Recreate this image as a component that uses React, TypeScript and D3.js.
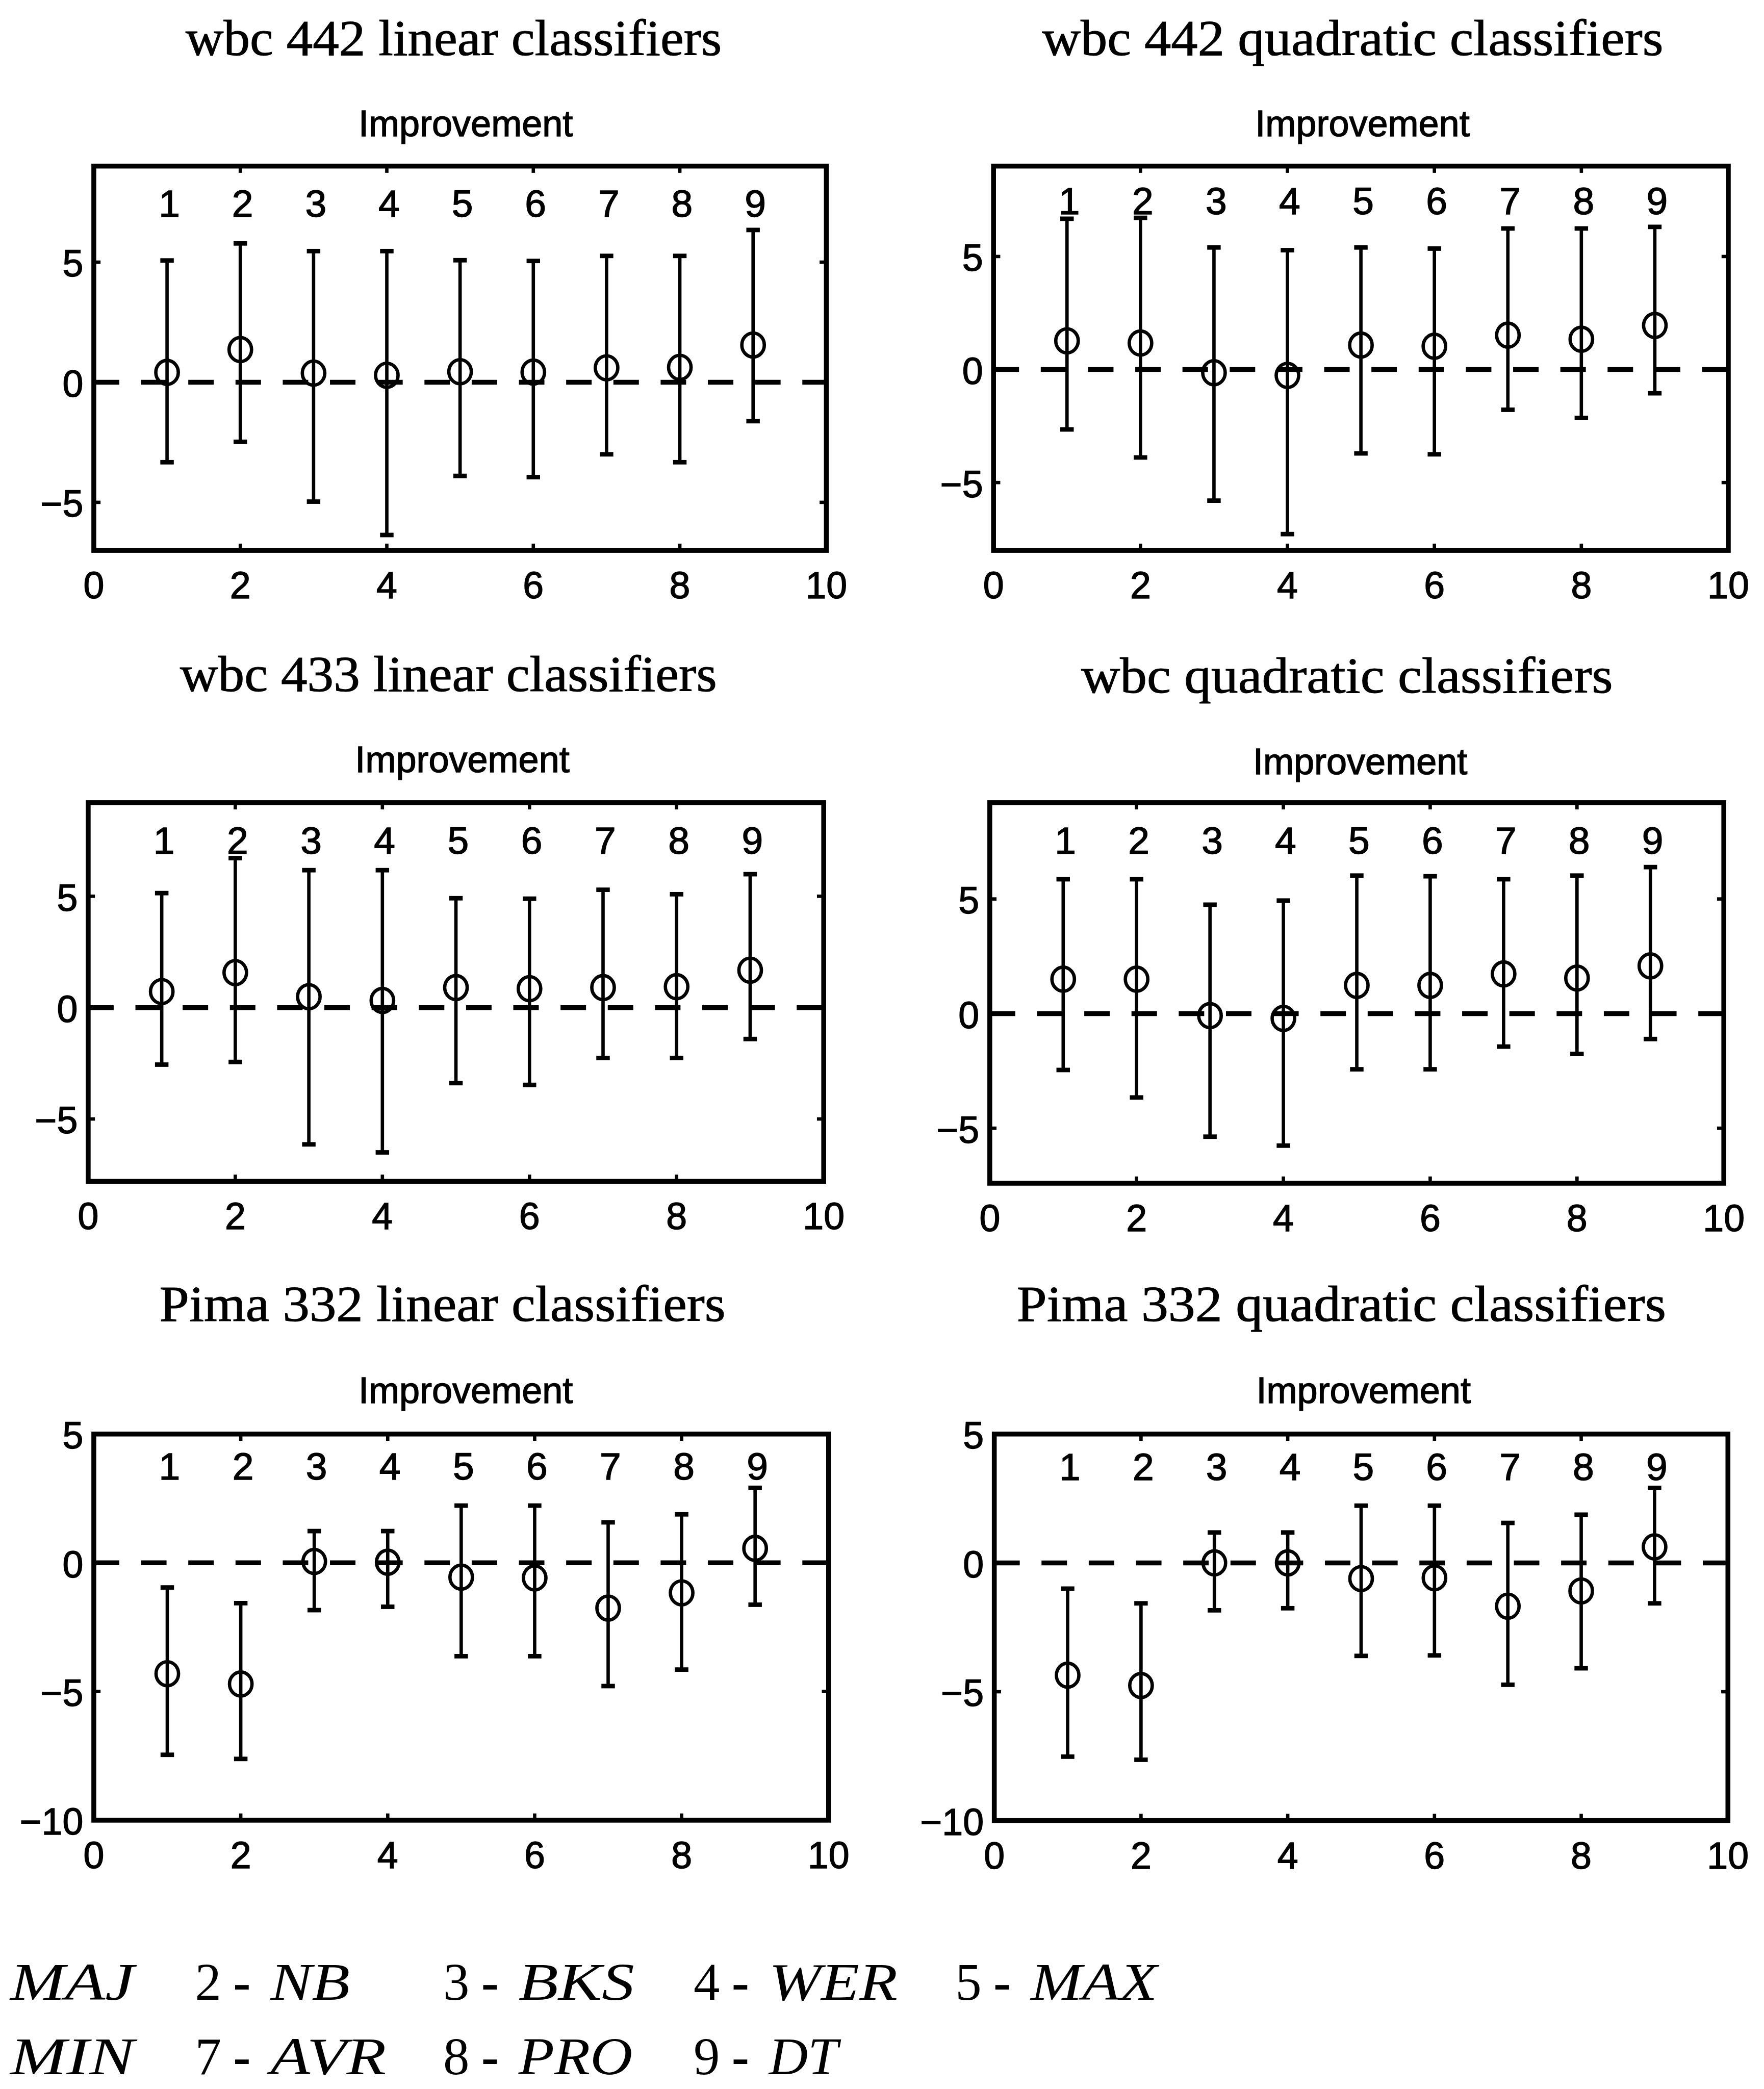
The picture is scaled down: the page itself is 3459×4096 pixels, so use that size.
import React from 'react';
import * as d3 from 'd3';

// Classifier index shown along each panel
const methods = [1, 2, 3, 4, 5, 6, 7, 8, 9];

// wbc 442 linear classifiers
const wbc442LinMean = [0.41, 1.36, 0.38, 0.29, 0.44, 0.42, 0.6, 0.62, 1.55];
const wbc442LinLow = [-3.33, -2.48, -4.97, -6.36, -3.9, -3.95, -3.0, -3.33, -1.62];
const wbc442LinHigh = [5.07, 5.78, 5.46, 5.46, 5.08, 5.05, 5.26, 5.26, 6.34];

// wbc 442 quadratic classifiers
const wbc442QuadMean = [1.27, 1.17, -0.14, -0.26, 1.08, 1.03, 1.52, 1.34, 1.95];
const wbc442QuadLow = [-2.65, -3.89, -5.8, -7.28, -3.71, -3.75, -1.78, -2.14, -1.05];
const wbc442QuadHigh = [6.67, 6.71, 5.4, 5.28, 5.4, 5.35, 6.24, 6.24, 6.31];

// wbc 433 linear classifiers
const wbc433LinMean = [0.72, 1.57, 0.49, 0.32, 0.9, 0.85, 0.9, 0.94, 1.68];
const wbc433LinLow = [-2.56, -2.44, -6.14, -6.5, -3.39, -3.47, -2.26, -2.26, -1.41];
const wbc433LinHigh = [5.14, 6.71, 6.17, 6.17, 4.91, 4.89, 5.29, 5.09, 5.99];

// wbc quadratic classifiers
const wbcQuadMean = [1.5, 1.5, -0.09, -0.21, 1.23, 1.23, 1.73, 1.55, 2.08];
const wbcQuadLow = [-2.46, -3.66, -5.37, -5.76, -2.43, -2.43, -1.44, -1.76, -1.11];
const wbcQuadHigh = [5.86, 5.86, 4.75, 4.93, 6.02, 5.99, 5.86, 6.02, 6.39];

// Pima 332 linear classifiers
const pimaLinMean = [-4.31, -4.71, 0.05, 0.02, -0.56, -0.59, -1.76, -1.17, 0.56];
const pimaLinLow = [-7.46, -7.62, -1.84, -1.71, -3.63, -3.63, -4.79, -4.15, -1.63];
const pimaLinHigh = [-0.96, -1.57, 1.23, 1.23, 2.22, 2.22, 1.57, 1.88, 2.91];

// Pima 332 quadratic classifiers
const pimaQuadMean = [-4.36, -4.76, 0.0, 0.0, -0.61, -0.58, -1.68, -1.09, 0.62];
const pimaQuadLow = [-7.52, -7.64, -1.84, -1.76, -3.61, -3.59, -4.73, -4.09, -1.57];
const pimaQuadHigh = [-1.0, -1.57, 1.18, 1.18, 2.22, 2.22, 1.55, 1.87, 2.91];

// Axis tick labels
const xTicks = [0, 2, 4, 6, 8, 10];
const yTicksWbc = [-5, 0, 5];
const yTicksPima = [-10, -5, 0, 5];

// Method key shown under the panels
const legendNames = ['MAJ', 'NB', 'BKS', 'WER', 'MAX', 'MIN', 'AVR', 'PRO', 'DT'];

const panels = [
  { title: 'wbc 442 linear classifiers', mean: wbc442LinMean, low: wbc442LinLow, high: wbc442LinHigh, yDomain: [-7, 9], yTicks: yTicksWbc, labelY: 7.45 },
  { title: 'wbc 442 quadratic classifiers', mean: wbc442QuadMean, low: wbc442QuadLow, high: wbc442QuadHigh, yDomain: [-8, 9], yTicks: yTicksWbc, labelY: 7.45 },
  { title: 'wbc 433 linear classifiers', mean: wbc433LinMean, low: wbc433LinLow, high: wbc433LinHigh, yDomain: [-7.8, 9.2], yTicks: yTicksWbc, labelY: 7.5 },
  { title: 'wbc quadratic classifiers', mean: wbcQuadMean, low: wbcQuadLow, high: wbcQuadHigh, yDomain: [-7.4, 9.2], yTicks: yTicksWbc, labelY: 7.55 },
  { title: 'Pima 332 linear classifiers', mean: pimaLinMean, low: pimaLinLow, high: pimaLinHigh, yDomain: [-10, 5], yTicks: yTicksPima, labelY: 3.75 },
  { title: 'Pima 332 quadratic classifiers', mean: pimaQuadMean, low: pimaQuadLow, high: pimaQuadHigh, yDomain: [-10, 5], yTicks: yTicksPima, labelY: 3.72 },
];

// Panel geometry in drawing units (viewBox 4705 x 5572)
const layout = [
  { x0: 250, x1: 2204, y0: 443, y1: 1468, titleX: 1210, titleY: 147, titleW: 1430, subX: 1242, subY: 363 },
  { x0: 2650, x1: 4610, y0: 443, y1: 1468, titleX: 3608, titleY: 147, titleW: 1657, subX: 3634, subY: 363 },
  { x0: 235, x1: 2197, y0: 2141, y1: 3151, titleX: 1196, titleY: 1843, titleW: 1432, subX: 1233, subY: 2060 },
  { x0: 2640, x1: 4598, y0: 2141, y1: 3156, titleX: 3593, titleY: 1848, titleW: 1418, subX: 3628, subY: 2065 },
  { x0: 250, x1: 2210, y0: 3825, y1: 4855, titleX: 1180, titleY: 3523, titleW: 1510, subX: 1242, subY: 3742 },
  { x0: 2652, x1: 4609, y0: 3825, y1: 4856, titleX: 3578, titleY: 3523, titleW: 1732, subX: 3637, subY: 3742 },
];

// Key layout: digit x per column, letter widths, row baselines
const legendDigitX = [-174, 520, 1182, 1850, 2548];
const legendLetterW = [331, 212, 309, 343, 338, 331, 309, 304, 184];
const legendRowY = [5334, 5532];

const SANS = '"Liberation Sans", Arial, Helvetica, sans-serif';
const SERIF = '"Liberation Serif", "Times New Roman", serif';

function Panel({ p, l }: { p: any; l: any }) {
  const x = d3.scaleLinear().domain([0, 10]).range([l.x0, l.x1]);
  const y = d3.scaleLinear().domain(p.yDomain).range([l.y1, l.y0]);
  const tick = 18;
  const cap = 18;
  return (
    <g>
      <text x={l.titleX} y={l.titleY} fontFamily={SERIF} fontSize={134} textAnchor="middle"
        textLength={l.titleW} lengthAdjust="spacingAndGlyphs" stroke="#000" strokeWidth={1.5}>{p.title}</text>
      <text x={l.subX} y={l.subY} fontFamily={SANS} fontSize={98} textAnchor="middle"
        stroke="#000" strokeWidth={2}>Improvement</text>

      {/* zero reference line */}
      <line x1={x(0)} x2={x(10)} y1={y(0)} y2={y(0)} stroke="#000" strokeWidth={13}
        strokeDasharray="68 58" />

      {/* error bars */}
      {methods.map((m, i) => (
        <g key={m}>
          <line x1={x(m)} x2={x(m)} y1={y(p.low[i])} y2={y(p.high[i])} stroke="#000" strokeWidth={9} />
          <line x1={x(m) - cap} x2={x(m) + cap} y1={y(p.low[i])} y2={y(p.low[i])} stroke="#000" strokeWidth={12} />
          <line x1={x(m) - cap} x2={x(m) + cap} y1={y(p.high[i])} y2={y(p.high[i])} stroke="#000" strokeWidth={12} />
          <ellipse cx={x(m)} cy={y(p.mean[i])} rx={30} ry={32} fill="none" stroke="#000" strokeWidth={9} />
          <text x={x(m) + 6} y={y(p.labelY)} fontFamily={SANS} fontSize={102} textAnchor="middle"
            dominantBaseline="central" stroke="#000" strokeWidth={2}>{m}</text>
        </g>
      ))}

      {/* frame */}
      <rect x={l.x0} y={l.y0} width={l.x1 - l.x0} height={l.y1 - l.y0} fill="none" stroke="#000" strokeWidth={13} />

      {/* ticks */}
      {xTicks.map((t) => (
        <g key={'x' + t}>
          <line x1={x(t)} x2={x(t)} y1={l.y1} y2={l.y1 - tick} stroke="#000" strokeWidth={9} />
          <line x1={x(t)} x2={x(t)} y1={l.y0} y2={l.y0 + tick} stroke="#000" strokeWidth={9} />
          <text x={x(t)} y={l.y1 + 128} fontFamily={SANS} fontSize={100} textAnchor="middle"
            stroke="#000" strokeWidth={2}>{t}</text>
        </g>
      ))}
      {p.yTicks.map((t: number) => (
        <g key={'y' + t}>
          <line x1={l.x0} x2={l.x0 + tick} y1={y(t)} y2={y(t)} stroke="#000" strokeWidth={9} />
          <line x1={l.x1} x2={l.x1 - tick} y1={y(t)} y2={y(t)} stroke="#000" strokeWidth={9} />
          <text x={l.x0 - 28} y={y(t) + 4} fontFamily={SANS} fontSize={100} textAnchor="end"
            dominantBaseline="central" stroke="#000" strokeWidth={2}>{t < 0 ? '\u2212' + Math.abs(t) : String(t)}</text>
        </g>
      ))}
    </g>
  );
}

export default function App() {
  return (
    <svg width={3459} height={4096} viewBox="0 0 4705 5572"
      style={{ position: 'absolute', left: 0, top: 0, background: '#fff' }}>
      <rect x={0} y={0} width={4705} height={5572} fill="#fff" />
      {panels.map((p, i) => (
        <Panel key={i} p={p} l={layout[i]} />
      ))}
      {legendNames.map((name, i) => {
        const row = i < 5 ? 0 : 1;
        const col = i < 5 ? i : i - 5;
        const dx = legendDigitX[col];
        const y = legendRowY[row];
        return (
          <g key={name}>
            {col > 0 && (
              <>
                <text x={dx} y={y} fontFamily={SERIF} fontSize={140}>{i + 1}</text>
                <text x={dx + 125} y={y} fontFamily={SERIF} fontSize={140} textAnchor="middle" fontWeight="bold">-</text>
              </>
            )}
            <text x={dx + 201} y={y} fontFamily={SERIF} fontSize={140} fontStyle="italic"
              textLength={legendLetterW[i]} lengthAdjust="spacingAndGlyphs">{name}</text>
          </g>
        );
      })}
    </svg>
  );
}
